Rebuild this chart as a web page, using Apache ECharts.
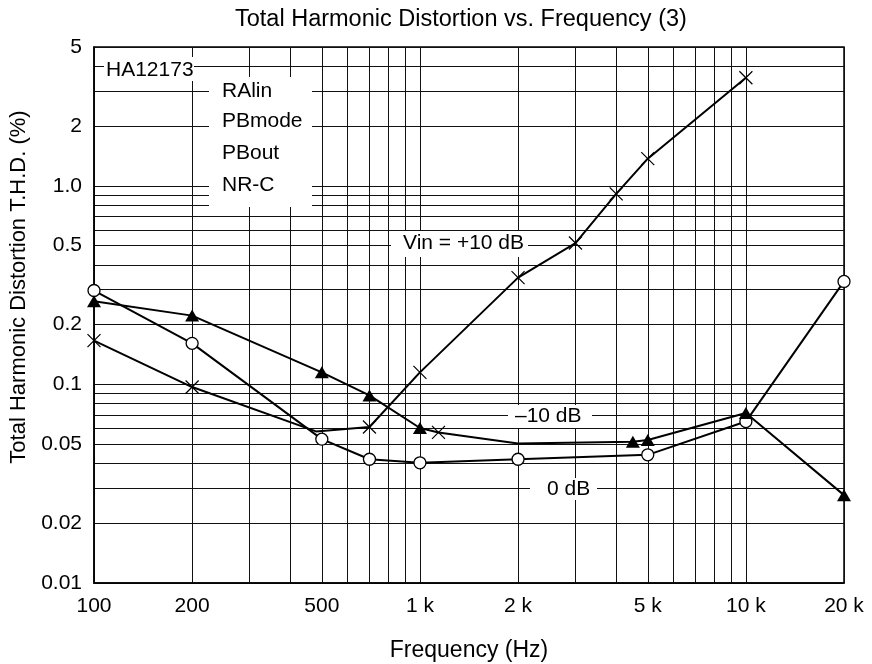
<!DOCTYPE html>
<html>
<head>
<meta charset="utf-8">
<script src="https://cdn.jsdelivr.net/npm/echarts@6/dist/echarts.min.js"></script>
<style>
html,body{margin:0;padding:0;background:#fff;}
#chart{width:872px;height:664px;}
</style>
</head>
<body>
<div id="chart"></div>
<script>
// ---- data ----
var xGridValues = [100,200,300,400,500,600,700,800,900,1000,2000,3000,4000,5000,6000,7000,8000,9000,10000,20000];
var xLabelValues = [100,200,500,1000,2000,5000,10000,20000];
var xLabelTexts = ['100','200','500','1 k','2 k','5 k','10 k','20 k'];
var yGridValues = [0.01,0.02,0.03,0.04,0.05,0.06,0.07,0.08,0.09,0.1,0.2,0.3,0.4,0.5,0.6,0.7,0.8,0.9,1,2,3,4,5];
var yLabelValues = [0.01,0.02,0.05,0.1,0.2,0.5,1,2,5];
var yLabelTexts = ['0.01','0.02','0.05','0.1','0.2','0.5','1.0','2','5'];

// Vin = +10 dB (x markers)
var plus10Freq = [100,200,480,700,1000,2000,3000,4000,5000,10000];
var plus10THD  = [0.166,0.097,0.058,0.061,0.115,0.345,0.515,0.91,1.37,3.5];
var plus10Marker = [1,1,0,1,1,1,1,1,1,1];

// 0 dB (circles)
var zeroFreq = [100,200,500,700,1000,2000,5000,10000,20000];
var zeroTHD  = [0.297,0.161,0.053,0.042,0.0403,0.042,0.0442,0.065,0.33];

// -10 dB (triangles)
var minus10Freq = [100,200,500,700,1000,1140,2000,4500,5000,10000,20000];
var minus10THD  = [0.262,0.222,0.115,0.088,0.0603,0.0573,0.0504,0.0514,0.0525,0.0718,0.0277];
var minus10Marker = ['tri','tri','tri','tri','tri','x','none','tri','tri','tri','tri'];

// annotations
var deviceName = 'HA12173';
var modeLines = ['RAlin','PBmode','PBout','NR-C'];
var curveLabels = ['Vin = +10 dB','\u201310 dB','0 dB'];

// ---- build ----
var X_PATH = 'path://M0,0L10,10M10,0L0,10';
var FONT = 'Liberation Sans, Arial, Helvetica, sans-serif';

function labelFor(vals, texts, v){
  var best = 0, bd = Infinity;
  for (var i=0;i<vals.length;i++){ var d=Math.abs(Math.log(vals[i])-Math.log(v)); if(d<bd){bd=d;best=i;} }
  return texts[best];
}

var plus10Data = plus10Freq.map(function(f,i){
  return plus10Marker[i] ? {value:[f,plus10THD[i]]} : {value:[f,plus10THD[i]], symbol:'none'};
});
var zeroData = zeroFreq.map(function(f,i){ return [f, zeroTHD[i]]; });
var minus10Data = minus10Freq.map(function(f,i){
  var m = minus10Marker[i];
  if (m === 'tri') return {value:[f,minus10THD[i]]};
  if (m === 'none') return {value:[f,minus10THD[i]], symbol:'none'};
  return {value:[f,minus10THD[i]], symbol:X_PATH, symbolSize:13,
          itemStyle:{color:'#000', borderColor:'#000', borderWidth:1.2}};
});

var chart = echarts.init(document.getElementById('chart'), null, {renderer:'canvas'});

function textEl(x, y, s){
  return {type:'text', x:x, y:y, z:100, style:{text:s, fontFamily:FONT, fontSize:21, fill:'#000', verticalAlign:'middle', align:'left'}};
}
function rectEl(x, y, w, h){
  return {type:'rect', z:90, shape:{x:x,y:y,width:w,height:h}, style:{fill:'#fff'}};
}

var option = {
  animation: false,
  backgroundColor: '#fff',
  title: {
    text: 'Total Harmonic Distortion vs. Frequency (3)',
    left: 230, top: 3,
    textStyle: {fontFamily: FONT, fontSize: 23.5, fontWeight: 'normal', color: '#000'}
  },
  grid: {left: 94, right: 28, top: 47, bottom: 81, show: true, borderColor: '#000', borderWidth: 1.5, outerBoundsMode: 'none', containLabel: false},
  xAxis: {
    type: 'log', logBase: 10, min: 100, max: 20000,
    name: 'Frequency (Hz)', nameLocation: 'middle', nameGap: 56,
    nameTextStyle: {fontFamily: FONT, fontSize: 23, color: '#000'},
    axisLine: {show: true, lineStyle: {color: '#000', width: 1.5}},
    axisTick: {show: false, customValues: xGridValues},
    axisLabel: {customValues: xLabelValues, margin: 13, fontFamily: FONT, fontSize: 21, color: '#000',
      formatter: function(v){ return labelFor(xLabelValues, xLabelTexts, v); }},
    splitLine: {show: true, lineStyle: {color: '#111', width: 1}},
    minorSplitLine: {show: false}
  },
  yAxis: {
    type: 'log', logBase: 10, min: 0.01, max: 5,
    name: 'Total Harmonic Distortion T.H.D. (%)', nameLocation: 'middle', nameGap: 59,
    nameTextStyle: {fontFamily: FONT, fontSize: 22, color: '#000', padding: [0,0,0,56]},
    axisLine: {show: true, lineStyle: {color: '#000', width: 1.5}},
    axisTick: {show: false, customValues: yGridValues},
    axisLabel: {customValues: yLabelValues, margin: 12, fontFamily: FONT, fontSize: 21, color: '#000',
      formatter: function(v){ return labelFor(yLabelValues, yLabelTexts, v); }},
    splitLine: {show: true, lineStyle: {color: '#111', width: 1}},
    minorSplitLine: {show: false}
  },
  series: [
    {
      name: 'Vin = +10 dB', type: 'line', data: plus10Data, clip: false,
      symbol: X_PATH, symbolSize: 13,
      lineStyle: {color: '#000', width: 2},
      itemStyle: {color: '#000', borderColor: '#000', borderWidth: 1.2},
      emphasis: {disabled: true}, z: 3
    },
    {
      name: '0 dB', type: 'line', data: zeroData, clip: false,
      symbol: 'circle', symbolSize: 12,
      lineStyle: {color: '#000', width: 2},
      itemStyle: {color: '#fff', borderColor: '#000', borderWidth: 1.3},
      emphasis: {disabled: true}, z: 4
    },
    {
      name: '-10 dB', type: 'line', data: minus10Data, clip: false,
      symbol: 'triangle', symbolSize: [14, 12],
      lineStyle: {color: '#000', width: 2},
      itemStyle: {color: '#000', borderWidth: 0},
      emphasis: {disabled: true}, z: 5
    }
  ],
  graphic: [
    rectEl(104, 57, 90, 24),
    textEl(106, 70, deviceName),
    rectEl(209, 77, 103, 130),
    textEl(222, 91, modeLines[0]),
    textEl(222, 121, modeLines[1]),
    textEl(222, 153, modeLines[2]),
    textEl(222, 185, modeLines[3]),
    rectEl(391, 231, 137, 26),
    textEl(403, 243, curveLabels[0]),
    rectEl(508, 405, 84, 23),
    textEl(515, 416, curveLabels[1]),
    rectEl(530, 478, 67, 22),
    textEl(547, 489, curveLabels[2])
  ]
};
chart.setOption(option);
</script>
</body>
</html>
